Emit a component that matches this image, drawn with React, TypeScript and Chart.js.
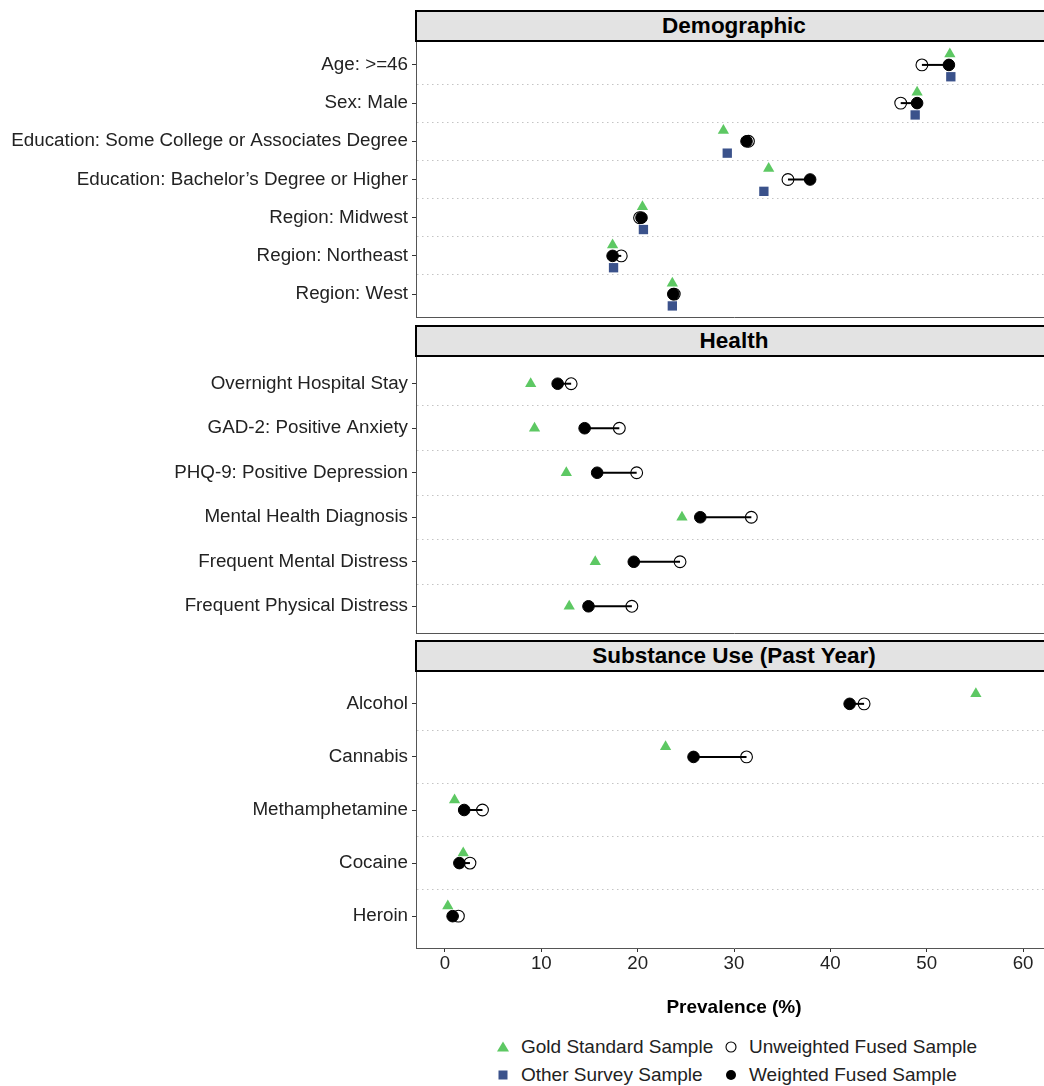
import React, { useEffect, useRef } from 'react';
import { Chart, registerables } from 'chart.js';

Chart.register(...registerables);

const FONT = "'Liberation Sans', Arial, Helvetica, sans-serif";

// ---------- Data ----------
const demoCategories = [
  'Age: >=46',
  'Sex: Male',
  'Education: Some College or Associates Degree',
  'Education: Bachelor\u2019s Degree or Higher',
  'Region: Midwest',
  'Region: Northeast',
  'Region: West',
];
const demoGold = [52.4, 49.0, 28.9, 33.6, 20.5, 17.4, 23.6];
const demoOther = [52.5, 48.8, 29.3, 33.1, 20.6, 17.5, 23.6];
const demoUnweighted = [49.5, 47.3, 31.5, 35.6, 20.2, 18.3, 23.8];
const demoWeighted = [52.3, 49.0, 31.3, 37.9, 20.4, 17.4, 23.7];

const healthCategories = [
  'Overnight Hospital Stay',
  'GAD-2: Positive Anxiety',
  'PHQ-9: Positive Depression',
  'Mental Health Diagnosis',
  'Frequent Mental Distress',
  'Frequent Physical Distress',
];
const healthGold = [8.9, 9.3, 12.6, 24.6, 15.6, 12.9];
const healthUnweighted = [13.1, 18.1, 19.9, 31.8, 24.4, 19.4];
const healthWeighted = [11.7, 14.5, 15.8, 26.5, 19.6, 14.9];

const substanceCategories = ['Alcohol', 'Cannabis', 'Methamphetamine', 'Cocaine', 'Heroin'];
const substanceGold = [55.1, 22.9, 1.0, 1.9, 0.3];
const substanceUnweighted = [43.5, 31.3, 3.9, 2.6, 1.4];
const substanceWeighted = [42.0, 25.8, 2.0, 1.5, 0.8];

const panelTitles = ['Demographic', 'Health', 'Substance Use (Past Year)'];
const xTicks = [0, 10, 20, 30, 40, 50, 60];
const xTitle = 'Prevalence (%)';
const legendLabels = ['Gold Standard Sample', 'Unweighted Fused Sample', 'Other Survey Sample', 'Weighted Fused Sample'];

// ---------- Styles ----------
const GOLD = '#5DC863';
const OTHER = '#3B528B';
const PANEL_LEFT = 416;
const PANEL_RIGHT = 1052;

type PanelSpec = {
  categories: string[];
  gold: number[];
  other: number[] | null;
  unweighted: number[];
  weighted: number[];
  goldOffset: number;
  otherOffset: number;
  top: number;
  plotHeight: number;
  canvasHeight: number;
  showX: boolean;
};

const panels: PanelSpec[] = [
  {
    categories: demoCategories, gold: demoGold, other: demoOther,
    unweighted: demoUnweighted, weighted: demoWeighted,
    goldOffset: -0.285, otherOffset: 0.31,
    top: 42, plotHeight: 275, canvasHeight: 277, showX: false,
  },
  {
    categories: healthCategories, gold: healthGold, other: null,
    unweighted: healthUnweighted, weighted: healthWeighted,
    goldOffset: 0, otherOffset: 0,
    top: 357, plotHeight: 276, canvasHeight: 278, showX: false,
  },
  {
    categories: substanceCategories, gold: substanceGold, other: null,
    unweighted: substanceUnweighted, weighted: substanceWeighted,
    goldOffset: -0.19, otherOffset: 0,
    top: 672, plotHeight: 276, canvasHeight: 352, showX: true,
  },
];
const stripTops = [10, 325, 640];

function zeroPadding(s: any) {
  s.paddingTop = 0;
  s.paddingBottom = 0;
  s.paddingLeft = 0;
  s.paddingRight = 0;
}

function Panel({ spec }: { spec: PanelSpec }) {
  const ref = useRef<HTMLCanvasElement | null>(null);
  useEffect(() => {
    if (!ref.current) return;
    const n = spec.categories.length;
    const datasets: any[] = [];
    spec.weighted.forEach((w, i) => {
      datasets.push({
        data: [{ x: w, y: i + 1 }, { x: spec.unweighted[i], y: i + 1 }],
        showLine: true, borderColor: '#000', borderWidth: 2, pointRadius: 0, order: 4,
      });
    });
    datasets.push({
      data: spec.unweighted.map((v, i) => ({ x: v, y: i + 1 })),
      pointStyle: 'circle', pointRadius: 5.9, pointBorderWidth: 1.1,
      pointBorderColor: '#000', pointBackgroundColor: 'rgba(0,0,0,0)', order: 3,
    });
    datasets.push({
      data: spec.weighted.map((v, i) => ({ x: v, y: i + 1 })),
      pointStyle: 'circle', pointRadius: 5.8, pointBorderWidth: 1,
      pointBorderColor: '#000', pointBackgroundColor: '#000', order: 2,
    });
    datasets.push({
      data: spec.gold.map((v, i) => ({ x: v, y: i + 1 + spec.goldOffset })),
      pointStyle: 'triangle', pointRadius: 6.5, pointBorderWidth: 0,
      pointBorderColor: GOLD, pointBackgroundColor: GOLD, order: 1,
    });
    if (spec.other) {
      datasets.push({
        data: spec.other.map((v, i) => ({ x: v, y: i + 1 + spec.otherOffset })),
        pointStyle: 'rect', pointRadius: 6.6, pointBorderWidth: 0,
        pointBorderColor: OTHER, pointBackgroundColor: OTHER, order: 0,
      });
    }
    const yTickValues: number[] = [];
    for (let i = 1; i <= n; i++) {
      yTickValues.push(i);
      if (i < n) yTickValues.push(i + 0.5);
    }
    const isHalf = (v: number) => Math.abs(v - Math.round(v)) > 0.1;
    const chart = new Chart(ref.current, {
      type: 'scatter',
      data: { datasets },
      options: {
        animation: false,
        responsive: false,
        events: [],
        layout: { padding: 0, autoPadding: false },
        plugins: { legend: { display: false }, tooltip: { enabled: false } },
        scales: {
          x: {
            type: 'linear',
            min: -3,
            max: 63,
            afterBuildTicks: (s: any) => { s.ticks = xTicks.map((v) => ({ value: v })); },
            afterFit: (s: any) => { s.height = spec.canvasHeight - spec.plotHeight; zeroPadding(s); },
            grid: { drawOnChartArea: false, drawTicks: spec.showX, tickLength: 4, color: '#333', tickColor: '#333' },
            border: { display: true, color: '#555', width: 1 },
            ticks: { display: spec.showX, font: { family: FONT, size: 18.7 }, color: '#222', padding: 1, maxRotation: 0 },
            title: {
              display: spec.showX, text: xTitle, color: '#000',
              font: { family: FONT, size: 19, weight: 'bold' }, padding: { top: 0, bottom: 4.6 },
            },
          },
          y: {
            type: 'linear',
            min: 0.4,
            max: n + 0.6,
            reverse: true,
            afterBuildTicks: (s: any) => { s.ticks = yTickValues.map((v) => ({ value: v })); },
            afterFit: (s: any) => { s.width = PANEL_LEFT; zeroPadding(s); },
            ticks: {
              autoSkip: false,
              font: { family: FONT, size: 18.8 },
              color: '#222',
              padding: 4,
              callback: (v: any) => (isHalf(Number(v)) ? '' : spec.categories[Math.round(Number(v)) - 1]),
            },
            grid: {
              color: (c: any) => (c.tick && isHalf(c.tick.value) ? '#c4c4c4' : 'rgba(0,0,0,0)'),
              tickColor: (c: any) => (c.tick && isHalf(c.tick.value) ? 'rgba(0,0,0,0)' : '#333'),
              lineWidth: 1,
              tickLength: 4,
              drawTicks: true,
            },
            border: { display: true, color: '#555', width: 1, dash: [1.5, 3.5] },
          },
        },
      } as any,
    });
    return () => chart.destroy();
  }, [spec]);
  return (
    <canvas
      ref={ref}
      width={PANEL_RIGHT}
      height={spec.canvasHeight}
      style={{ position: 'absolute', left: 0, top: spec.top, display: 'block' }}
    />
  );
}

function LegendMarker({ kind }: { kind: number }) {
  return (
    <svg width={16} height={16} style={{ position: 'absolute', left: -8, top: -8 }}>
      {kind === 0 && <polygon points="8,2.5 14,12.5 2,12.5" fill={GOLD} />}
      {kind === 1 && <circle cx={8} cy={8} r={5} fill="none" stroke="#000" strokeWidth={1.1} />}
      {kind === 2 && <rect x={3.5} y={3.5} width={9} height={9} fill={OTHER} />}
      {kind === 3 && <circle cx={8} cy={8} r={5} fill="#000" />}
    </svg>
  );
}

export default function App() {
  const legendPos = [
    { mx: 503, tx: 521, y: 1047 },
    { mx: 731, tx: 749, y: 1047 },
    { mx: 503, tx: 521, y: 1075 },
    { mx: 731, tx: 749, y: 1075 },
  ];
  return (
    <div
      style={{
        position: 'absolute', left: 0, top: 0, width: 1044, height: 1086,
        overflow: 'hidden', background: '#fff', fontFamily: FONT,
      }}
    >
      {panels.map((p, i) => (
        <Panel key={i} spec={p} />
      ))}
      {panelTitles.map((t, i) => (
        <div
          key={t}
          style={{
            position: 'absolute', left: PANEL_LEFT - 1, top: stripTops[i], width: PANEL_RIGHT - PANEL_LEFT + 2,
            height: 32, boxSizing: 'border-box', background: '#e3e3e3', border: '2px solid #000',
            display: 'flex', alignItems: 'center', justifyContent: 'center',
            fontWeight: 'bold', fontSize: 22.5, color: '#000', lineHeight: '28px',
          }}
        >
          {t}
        </div>
      ))}
      {legendLabels.map((l, i) => (
        <React.Fragment key={l}>
          <div style={{ position: 'absolute', left: legendPos[i].mx, top: legendPos[i].y, width: 0, height: 0 }}>
            <LegendMarker kind={i} />
          </div>
          <div
            style={{
              position: 'absolute', left: legendPos[i].tx, top: legendPos[i].y - 11, height: 22,
              lineHeight: '22px', fontSize: 19, color: '#222', whiteSpace: 'nowrap',
            }}
          >
            {l}
          </div>
        </React.Fragment>
      ))}
    </div>
  );
}
